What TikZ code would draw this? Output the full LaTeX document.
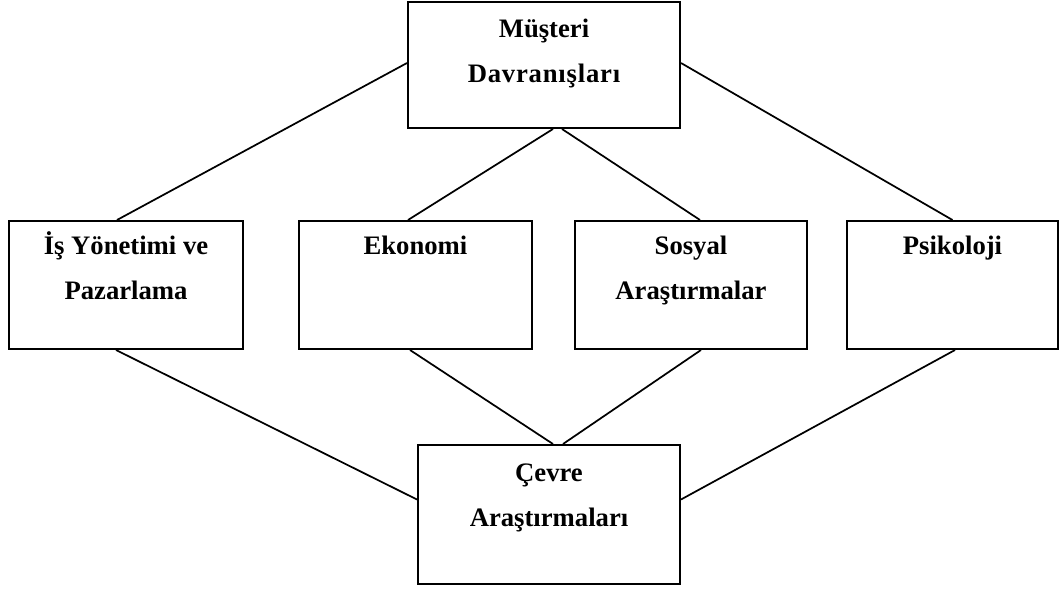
\documentclass[tikz,border=0pt]{standalone}
\usepackage{fontspec}
\setmainfont{Liberation Serif}
\usetikzlibrary{calc}
\begin{document}
\begin{tikzpicture}[x=0.75pt,y=-0.75pt,
  box/.style={draw,line width=1.5pt,inner sep=0pt,rectangle},
  lbl/.style={anchor=base,inner sep=0pt,font=\fontsize{20pt}{24pt}\selectfont\bfseries},
  link/.style={line width=1.3pt}]
\useasboundingbox (0,0) rectangle (1060,589);

% boxes
\node[box,minimum width=204pt,minimum height=94.5pt] (top) at (544,65) {};
\node[box,minimum width=175.5pt,minimum height=96pt] (is) at (126,285) {};
\node[box,minimum width=174.75pt,minimum height=96pt] (eko) at (415.5,285) {};
\node[box,minimum width=174pt,minimum height=96pt] (sos) at (691,285) {};
\node[box,minimum width=158.25pt,minimum height=96pt] (psi) at (952.5,285) {};
\node[box,minimum width=196.5pt,minimum height=104.25pt] (bot) at (549,514.5) {};

% labels
\node[lbl] (top1) at ($(top.north)+(0,36)$) {Müşteri};
\node[lbl] (top2) at ($(top.north)+(0,81)$) {\addfontfeature{LetterSpace=3}Davranışları};
\node[lbl] (is1) at ($(is.north)+(0,34)$) {İş Yönetimi ve};
\node[lbl] (is2) at ($(is.north)+(0,79)$) {Pazarlama};
\node[lbl] (eko1) at ($(eko.north)+(0,34)$) {Ekonomi};
\node[lbl] (sos1) at ($(sos.north)+(0,34)$) {Sosyal};
\node[lbl] (sos2) at ($(sos.north)+(0,79)$) {Araştırmalar};
\node[lbl] (psi1) at ($(psi.north)+(0,34)$) {Psikoloji};
\node[lbl] (bot1) at ($(bot.north)+(0,37)$) {Çevre};
\node[lbl] (bot2) at ($(bot.north)+(0,82)$) {Araştırmaları};

% upper connectors
\draw[link] ($(top.west)+(0,-2)$) -- ($(is.north)+(-9,0)$);
\draw[link] ($(top.south)+(9,0)$) -- ($(eko.north)+(-7.5,0)$);
\draw[link] ($(top.south)+(18,0)$) -- ($(sos.north)+(9,0)$);
\draw[link] ($(top.east)+(0,-2)$) -- (psi.north);

% lower connectors
\draw[link] ($(is.south)+(-10,0)$) -- ($(bot.west)+(0,-15)$);
\draw[link] ($(eko.south)+(-5.5,0)$) -- ($(bot.north)+(4,0)$);
\draw[link] ($(sos.south)+(10,0)$) -- ($(bot.north)+(14,0)$);
\draw[link] ($(psi.south)+(2.5,0)$) -- ($(bot.east)+(0,-15)$);
\end{tikzpicture}
\end{document}
